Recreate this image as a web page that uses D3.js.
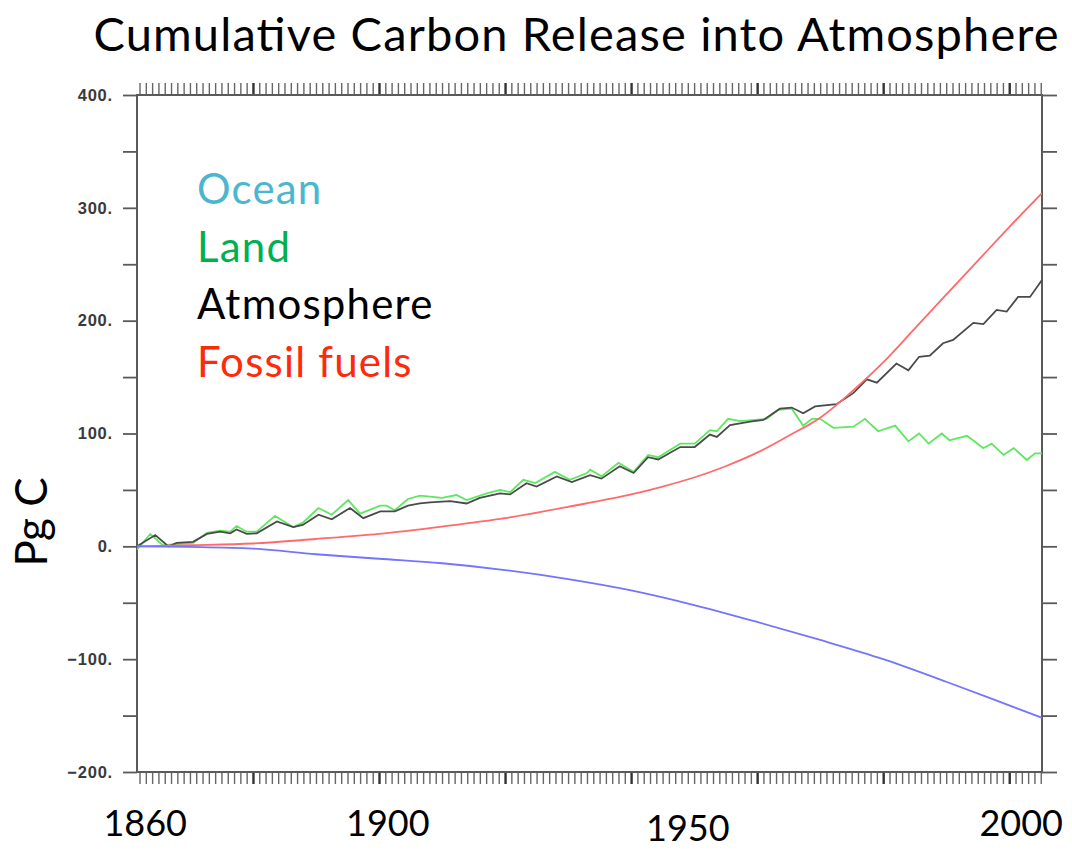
<!DOCTYPE html>
<html>
<head>
<meta charset="utf-8">
<script src="https://cdn.jsdelivr.net/npm/d3@7"></script>
<style>
  body { margin: 0; background: #fff; }
  svg { display: block; }
</style>
</head>
<body>
<svg id="chart" width="1072" height="850"></svg>
<script>
// cumulative carbon, Pg C as [year, value]
const fossil = [[1861.6,0],[1870,1],[1880,2.5],[1890,6.5],[1900,11],[1910,17.5],[1920,25],[1930,35],
  [1940,46],[1945,53],[1950,61],[1955,71],[1960,83],[1965,98],[1970,114],[1975,137],[1980,163],
  [1985,193],[1990,223],[1995,253],[2000,283],[2005.2,313]];

const ocean = [[1861.6,0],[1870,-0.5],[1880,-2],[1890,-7],[1900,-11],[1910,-15],[1920,-21],
  [1930,-29],[1940,-39],[1950,-52],[1960,-67],[1970,-83],[1980,-100],[1990,-120],[2000,-141],
  [2005.2,-152]];

const land = [[1861.6,-3],[1863.7,11],[1865.7,1],[1867.9,2],[1870.5,3],[1872.7,12],[1874.8,14],
  [1876.4,13],[1877.4,18],[1879.0,13],[1880.6,13],[1883.5,27],[1886.4,17],[1887.9,21],[1890.4,34],
  [1892.5,28],[1895.1,41],[1897.0,29],[1900.2,36],[1901.2,36],[1902.5,32],[1904.6,42],[1906.5,45],
  [1908.1,44],[1910,43],[1912.3,45.5],[1913.9,41],[1917.1,47],[1919.2,50],[1920.8,48],[1922.9,59],
  [1924.8,56],[1927.9,66],[1930.3,59],[1933.0,65],[1933.5,68],[1935.3,62],[1938.0,74],[1940.4,66],
  [1942.7,81],[1944.3,79],[1947.8,91],[1950.1,91],[1952.5,103],[1953.6,102],[1955.4,113],
  [1957.3,111],[1961.5,113],[1963.4,121],[1965.5,122],[1967.3,107],[1968.7,113],[1970.0,113],
  [1972.1,105],[1975.3,106],[1977.1,113],[1979.2,102],[1981.9,107],[1984.0,93],[1985.7,100],
  [1987.2,91],[1989.3,100],[1990.5,94],[1993.3,98],[1995.9,87],[1997.2,91],[1999.1,81],
  [2000.7,87],[2002.8,76.5],[2004.1,82.4],[2005.2,82.4]];

const atmosphere = [[1861.6,0],[1864.5,10],[1866.6,0],[1867.9,3],[1870.5,4],[1872.7,11],
  [1874.8,13],[1876.4,11.5],[1877.4,15],[1879.0,11],[1880.6,11.5],[1883.8,22],[1886.4,17],
  [1887.9,19],[1890.4,28],[1892.5,24],[1895.4,34],[1897.5,25],[1900.2,31],[1902.5,31],[1904.6,36],
  [1906.5,38],[1908.1,39],[1911.3,40],[1913.9,38],[1916.0,43],[1919.2,47],[1920.8,46],[1923.4,56],
  [1925.0,53],[1928.2,62],[1930.6,57],[1933.5,63],[1935.3,60],[1938.2,71],[1940.4,65],[1942.7,79],
  [1944.3,77],[1947.8,88],[1950.1,88],[1952.5,99],[1953.6,97],[1955.7,107.5],[1958.9,110.5],
  [1961.0,112],[1963.6,122],[1965.5,123],[1967.3,118],[1969.2,124],[1972.6,126],[1975.3,136],
  [1977.4,148],[1979.0,145],[1982.1,162],[1984.0,156],[1985.7,168],[1987.4,169],[1989.5,180],
  [1991.1,183],[1994.3,198],[1995.9,197],[1998.0,209.5],[1999.6,208],[2001.4,221],[2003.3,221],
  [2005.2,236]];

const legendNames = ["Ocean", "Land", "Atmosphere", "Fossil fuels"];
const legendColors = ["#4bb6cf", "#00b050", "#000000", "#ff2a0a"];

const yearLabels = ["1860", "1900", "1950", "2000"];
const yearLabelPos = [1862.9, 1901.4, 1949.0, 2001.9];

const yTicks = d3.range(-200, 401, 50);
const xMinor = d3.range(1862, 2006);
const xMajor = d3.range(1880, 2001, 20);

const svg = d3.select("#chart");
const pLeft = 137, pRight = 1042, pTop = 95, pBottom = 772;

const x = d3.scaleLinear().domain([1861.6, 2005.2]).range([pLeft, pRight]);
const y = d3.scaleLinear().domain([-200, 400]).range([pBottom, pTop]);

svg.append("rect").attr("width", 1072).attr("height", 850).attr("fill", "#fff");

svg.append("defs").append("clipPath").attr("id", "plot")
  .append("rect").attr("x", pLeft).attr("y", pTop)
  .attr("width", pRight - pLeft).attr("height", pBottom - pTop);

const axisCol = "#5a5a5a";

// y axes, ticks pointing out on both sides
const fmt = d => d % 100 === 0 ? (d < 0 ? "\u2212" : "") + Math.abs(d) + "." : "";

const yl = svg.append("g").attr("transform", `translate(${pLeft},0)`)
  .call(d3.axisLeft(y).tickValues(yTicks).tickSize(14).tickSizeOuter(0).tickPadding(10).tickFormat(fmt));
const yr = svg.append("g").attr("transform", `translate(${pRight},0)`)
  .call(d3.axisRight(y).tickValues(yTicks).tickSize(15).tickSizeOuter(0).tickFormat(""));

// x axes, one tick per year
const xb = svg.append("g").attr("transform", `translate(0,${pBottom})`)
  .call(d3.axisBottom(x).tickValues(xMinor).tickSize(12).tickSizeOuter(0).tickFormat(""));
const xt = svg.append("g").attr("transform", `translate(0,${pTop})`)
  .call(d3.axisTop(x).tickValues(xMinor).tickSize(12).tickSizeOuter(0).tickFormat(""));

[yl, yr, xb, xt].forEach(g => {
  g.select(".domain").remove();
  g.selectAll(".tick line").attr("stroke", axisCol).attr("stroke-width", 1.8);
});
[xb, xt].forEach(g => {
  g.selectAll(".tick line")
    .attr("stroke-width", d => xMajor.includes(d) ? 2.4 : 1.4)
    .attr("stroke", d => xMajor.includes(d) ? "#333" : "#666");
});
yl.selectAll(".tick text")
  .attr("font-family", "Liberation Sans, Arial, sans-serif")
  .attr("font-size", 16.5).attr("font-weight", "bold")
  .attr("letter-spacing", 0.8).attr("fill", "#3a3a3a");

// frame
svg.append("rect").attr("x", pLeft).attr("y", pTop)
  .attr("width", pRight - pLeft).attr("height", pBottom - pTop)
  .attr("fill", "none").attr("stroke", axisCol).attr("stroke-width", 2);

const line = d3.line().x(d => x(d[0])).y(d => y(d[1]));
const smooth = d3.line().x(d => x(d[0])).y(d => y(d[1])).curve(d3.curveMonotoneX);

const plot = svg.append("g").attr("clip-path", "url(#plot)");
plot.append("path").datum(land).attr("d", line)
  .attr("fill", "none").attr("stroke", "#5ee85e").attr("stroke-width", 1.8);
plot.append("path").datum(atmosphere).attr("d", line)
  .attr("fill", "none").attr("stroke", "#4a4a4a").attr("stroke-width", 1.8);
plot.append("path").datum(fossil).attr("d", smooth)
  .attr("fill", "none").attr("stroke", "#ff6a6a").attr("stroke-width", 1.8);
plot.append("path").datum(ocean).attr("d", smooth)
  .attr("fill", "none").attr("stroke", "#7474ff").attr("stroke-width", 1.8);

// legend
svg.append("g").selectAll("text").data(legendNames).join("text")
  .attr("x", 197).attr("y", (d, i) => 204 + i * 57.5)
  .attr("font-family", "Lato, 'Open Sans', sans-serif").attr("font-size", 42)
  .attr("letter-spacing", 1.2)
  .attr("fill", (d, i) => legendColors[i])
  .text(d => d);

// title
svg.append("text").attr("x", 576).attr("y", 51).attr("text-anchor", "middle")
  .attr("font-family", "Lato, 'Open Sans', sans-serif").attr("font-size", 47)
  .attr("textLength", 965)
  .text("Cumulative Carbon Release into Atmosphere");

// y title
svg.append("text").attr("transform", "translate(47,522) rotate(-90)")
  .attr("text-anchor", "middle")
  .attr("font-family", "Lato, 'Open Sans', sans-serif").attr("font-size", 44)
  .text("Pg C");

// year labels under the axis
svg.append("g").selectAll("text").data(yearLabels).join("text")
  .attr("x", (d, i) => x(yearLabelPos[i]))
  .attr("y", (d, i) => i === 2 ? 841 : 836)
  .attr("text-anchor", "middle")
  .attr("font-family", "Lato, 'Open Sans', sans-serif").attr("font-size", 36)
  .text(d => d);
</script>
</body>
</html>
